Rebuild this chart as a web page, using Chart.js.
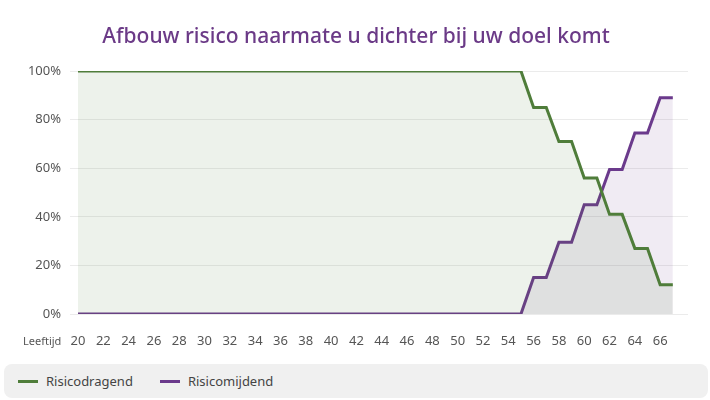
<!DOCTYPE html>
<html>
<head>
<meta charset="utf-8">
<script src="https://cdn.jsdelivr.net/npm/chart.js@4.4.1/dist/chart.umd.min.js"></script>
<style>
  html, body { margin: 0; padding: 0; background: #ffffff; }
  #wrap { position: relative; width: 710px; height: 400px; font-family: "Noto Sans", sans-serif; }
  #cwrap { position: absolute; left: 0; top: 0; width: 710px; height: 360px; }
  #legend { position: absolute; left: 4px; top: 364px; width: 704px; height: 34px; background: #f0f0f0;
            border-radius: 8px; display: flex; align-items: center; box-sizing: border-box; padding-left: 14px; }
  .item { display: flex; align-items: center; margin-right: 27px; font-size: 13px; color: #444; }
  .swatch { display: inline-block; width: 20px; height: 3px; margin-right: 8px; }
</style>
</head>
<body>
<div id="wrap">
  <div id="cwrap"><canvas id="c"></canvas></div>
  <div id="legend"></div>
</div>
<script>
const chartTitle = "Afbouw risico naarmate u dichter bij uw doel komt";
const axisLabel = "Leeftijd";
const seriesNames = ["Risicodragend", "Risicomijdend"];
const ages = [20,21,22,23,24,25,26,27,28,29,30,31,32,33,34,35,36,37,38,39,40,41,42,43,44,45,46,47,48,49,50,51,52,53,54,55,56,57,58,59,60,61,62,63,64,65,66,67];
const risicodragend = [100,100,100,100,100,100,100,100,100,100,100,100,100,100,100,100,100,100,100,100,100,100,100,100,100,100,100,100,100,100,100,100,100,100,100,100,85,85,71,71,56,56,41,41,27,27,12,12];
const risicomijdend = [0,0,0,0,0,0,0,0,0,0,0,0,0,0,0,0,0,0,0,0,0,0,0,0,0,0,0,0,0,0,0,0,0,0,0,0,15,15,29.5,29.5,45,45,59.5,59.5,74.5,74.5,89,89];
const yTicks = [0,20,40,60,80,100];

const green = "#4f7d3a";
const purple = "#6b3a8c";
const fontFam = "'Noto Sans', sans-serif";

const toPts = (vals) => ages.map((a, i) => ({ x: a, y: vals[i] }));

const textPlugin = {
  id: "texts",
  afterDraw(chart) {
    const ctx = chart.ctx;
    ctx.save();
    ctx.font = "500 21px " + fontFam;
    ctx.fillStyle = "#6b3a87";
    ctx.textAlign = "center";
    ctx.textBaseline = "middle";
    ctx.fillText(chartTitle, chart.width / 2 + 1, 37);
    ctx.font = "11px " + fontFam;
    ctx.fillStyle = "#555";
    ctx.textAlign = "left";
    ctx.fillText(axisLabel, 23, 342);
    ctx.restore();
  }
};

new Chart(document.getElementById("c"), {
  type: "line",
  data: {
    datasets: [
      { label: seriesNames[0], data: toPts(risicodragend), borderColor: green, borderWidth: 3,
        backgroundColor: "rgba(79,125,58,0.1)", fill: "origin", pointRadius: 0, tension: 0 },
      { label: seriesNames[1], data: toPts(risicomijdend), borderColor: purple, borderWidth: 3,
        backgroundColor: "rgba(107,58,140,0.1)", fill: "origin", pointRadius: 0, tension: 0 }
    ]
  },
  options: {
    responsive: true,
    maintainAspectRatio: false,
    animation: false,
    layout: { padding: { left: 0, right: 22, top: 71, bottom: 0 } },
    plugins: {
      legend: { display: false },
      tooltip: { enabled: false },
      title: { display: false }
    },
    scales: {
      x: {
        type: "linear", min: 20, max: 68.2,
        grid: { display: false }, border: { display: false },
        afterFit(s) { s.height = 46; },
        afterBuildTicks(s) { s.ticks = ages.filter(a => a % 2 === 0 && a <= 66).map(v => ({ value: v })); },
        ticks: { autoSkip: false, maxRotation: 0, padding: 11, color: "#555",
                 font: { family: fontFam, size: 13 }, callback: v => String(v) }
      },
      y: {
        min: 0, max: 100,
        afterFit(s) { s.width = 78; },
        afterBuildTicks(s) { s.ticks = yTicks.map(v => ({ value: v })); },
        grid: { color: "#ebebeb", tickLength: 8, drawTicks: true },
        border: { display: false },
        ticks: { padding: 9, color: "#555", font: { family: fontFam, size: 13 }, callback: v => v + "%" }
      }
    }
  },
  plugins: [textPlugin]
});

const legendEl = document.getElementById("legend");
[[seriesNames[0], green], [seriesNames[1], purple]].forEach(([name, col]) => {
  const it = document.createElement("div");
  it.className = "item";
  const sw = document.createElement("span");
  sw.className = "swatch";
  sw.style.background = col;
  const tx = document.createElement("span");
  tx.textContent = name;
  it.appendChild(sw); it.appendChild(tx);
  legendEl.appendChild(it);
});
</script>
</body>
</html>
